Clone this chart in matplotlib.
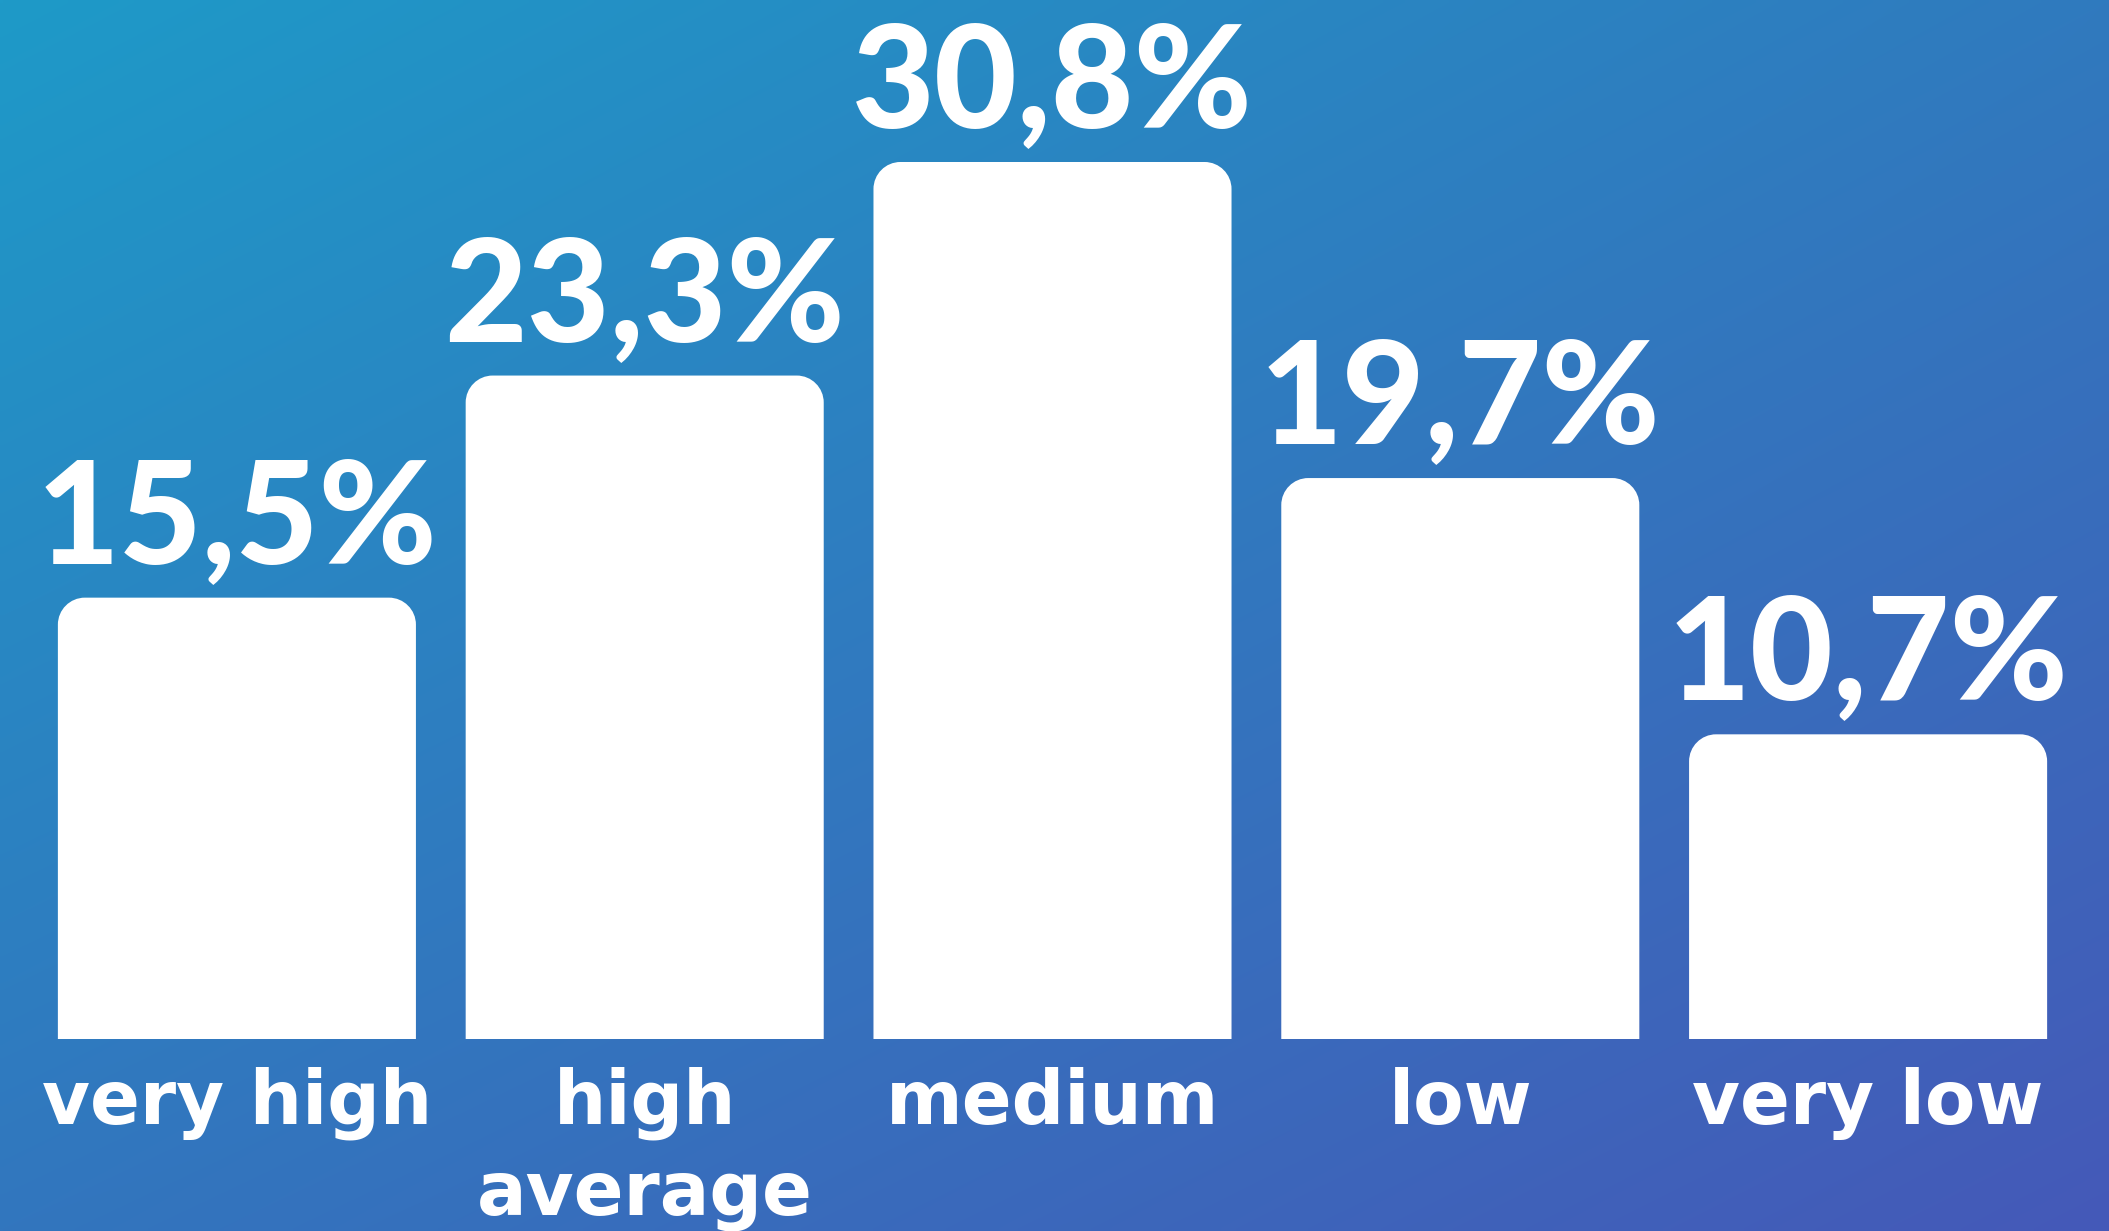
import numpy as np
import matplotlib
matplotlib.use("Agg")
import matplotlib.pyplot as plt
from matplotlib.path import Path
from matplotlib.patches import PathPatch

categories = ["very high", "high\naverage", "medium", "low", "very low"]
values = [15.5, 23.3, 30.8, 19.7, 10.7]
value_labels = ["15,5%", "23,3%", "30,8%", "19,7%", "10,7%"]

W, H, DPI = 2109, 1231, 100
fig = plt.figure(figsize=(W / DPI, H / DPI), dpi=DPI)

# background gradient
bg = fig.add_axes([0, 0, 1, 1], zorder=0)
bg.set_axis_off()
tl = np.array([30, 154, 200]) / 255
tr = np.array([48, 122, 190]) / 255
bl = np.array([50, 118, 190]) / 255
br = np.array([69, 89, 184]) / 255
u = np.linspace(0, 1, 400)[None, :, None]
v = np.linspace(0, 1, 240)[:, None, None]
img = (1 - u) * (1 - v) * tl + u * (1 - v) * tr + (1 - u) * v * bl + u * v * br
bg.imshow(img, aspect="auto", extent=[0, 1, 0, 1], interpolation="bilinear")
bg.set_xlim(0, 1)
bg.set_ylim(0, 1)

ax = fig.add_axes([33 / W, 192 / H, 2039 / W, 996.6 / H], zorder=1)
ax.patch.set_alpha(0)
ax.set_xlim(-0.5, 4.5)
ax.set_ylim(0, 35)
ax.set_axis_off()

bars = ax.bar(range(len(values)), values, width=0.878, color="white")

fig.canvas.draw()
r_px = 27
x_per_px = (ax.get_xlim()[1] - ax.get_xlim()[0]) / ax.bbox.width
y_per_px = (ax.get_ylim()[1] - ax.get_ylim()[0]) / ax.bbox.height
rx, ry = r_px * x_per_px, r_px * y_per_px
k = 0.5523
for b in bars:
    x0, y0 = b.get_x(), b.get_y()
    w, h = b.get_width(), b.get_height()
    x1, y1 = x0 + w, y0 + h
    verts = [
        (x0, y0), (x0, y1 - ry),
        (x0, y1 - ry + k * ry), (x0 + rx - k * rx, y1), (x0 + rx, y1),
        (x1 - rx, y1),
        (x1 - rx + k * rx, y1), (x1, y1 - ry + k * ry), (x1, y1 - ry),
        (x1, y0), (x0, y0),
    ]
    codes = [Path.MOVETO, Path.LINETO,
             Path.CURVE4, Path.CURVE4, Path.CURVE4,
             Path.LINETO,
             Path.CURVE4, Path.CURVE4, Path.CURVE4,
             Path.LINETO, Path.CLOSEPOLY]
    ax.add_patch(PathPatch(Path(verts, codes), facecolor="white", edgecolor="none", zorder=2))
    b.set_visible(False)

px2pt = 72 / DPI
for i, (val, lab) in enumerate(zip(values, value_labels)):
    ax.annotate(lab, xy=(i, val), xytext=(0, 35 * px2pt), textcoords="offset points",
                ha="center", va="baseline", color="white", fontsize=103,
                fontfamily="Lato", fontweight="black")
for i, cat in enumerate(categories):
    ax.annotate(cat, xy=(i, 0), xytext=(0, -28 * px2pt), textcoords="offset points",
                ha="center", va="top", color="white", fontsize=53,
                fontfamily="DejaVu Sans", fontweight="bold", linespacing=1.3,
                annotation_clip=False)

fig.savefig("out.png", dpi=DPI)
